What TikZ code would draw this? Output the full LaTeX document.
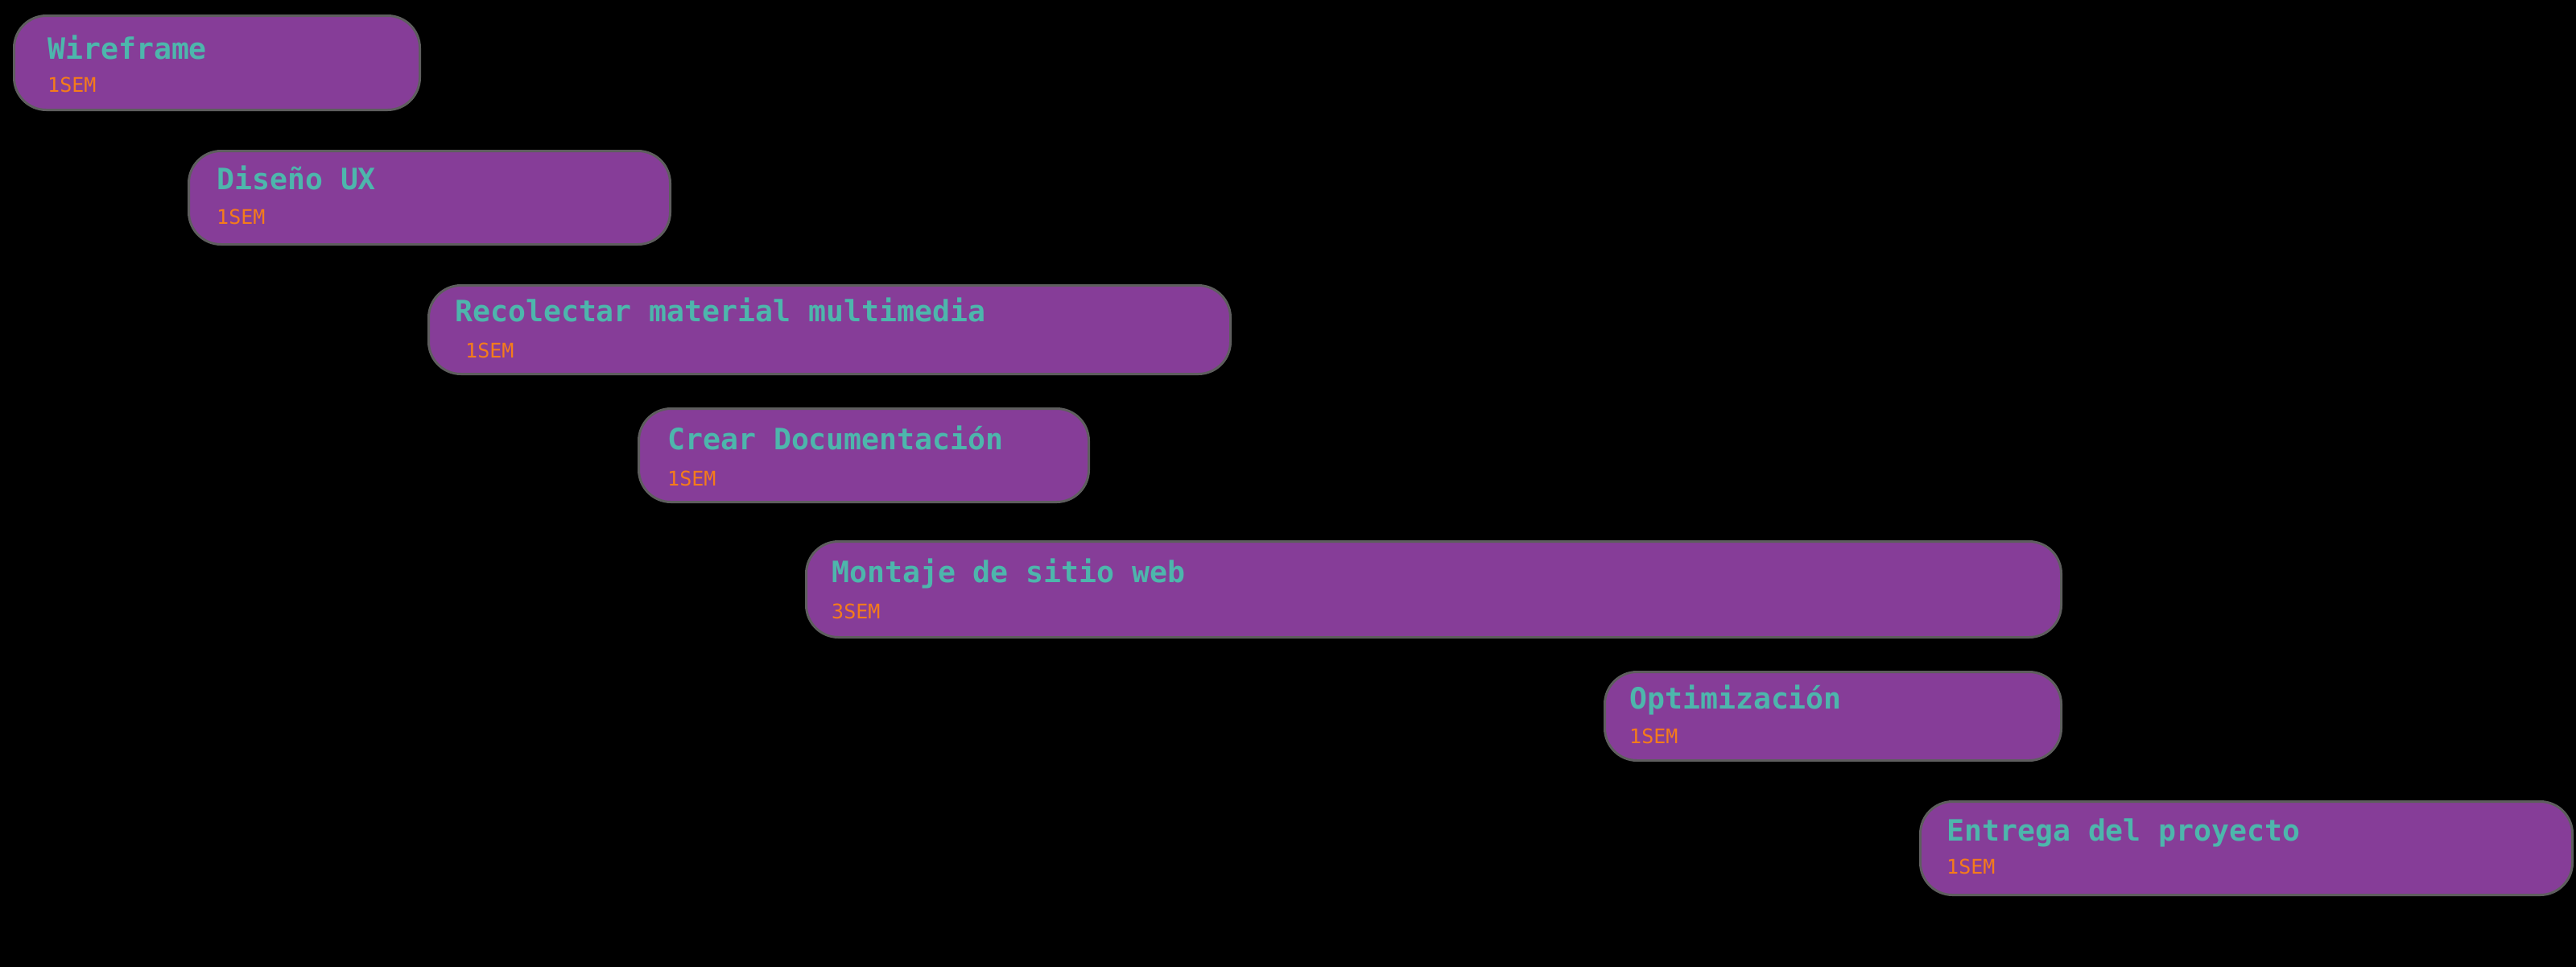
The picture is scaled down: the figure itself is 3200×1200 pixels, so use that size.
\documentclass[tikz,border=0pt]{standalone}
\usepackage{fontspec}
\setmonofont{DejaVu Sans Mono}
\definecolor{barpurple}{HTML}{863D98}
\definecolor{baredge}{HTML}{5E5E5E}
\definecolor{titleteal}{HTML}{4DB6AC}
\definecolor{suborange}{HTML}{F57C1A}
\tikzset{
  bar/.style={draw=baredge, line width=3pt, fill=barpurple, rounded corners=40pt, inner sep=0pt, anchor=north west},
  tasktitle/.style={text=titleteal, font=\ttfamily\bfseries\fontsize{36.5}{40}\selectfont, inner sep=0pt, anchor=base west},
  tasksub/.style={text=suborange, font=\ttfamily\fontsize{25}{28}\selectfont, inner sep=0pt, anchor=base west}
}
\begin{document}
\begin{tikzpicture}[x=1pt,y=-1pt]
\useasboundingbox (0,0) rectangle (3200,1200);
\fill[black] (-10,-10) rectangle (3210,1210);
% bars
\node[bar, minimum width=504pt, minimum height=117pt] (b1) at (16,18) {};
\node[bar, minimum width=598pt, minimum height=116pt] (b2) at (233,186) {};
\node[bar, minimum width=996pt, minimum height=110pt] (b3) at (531,353) {};
\node[bar, minimum width=559pt, minimum height=116pt] (b4) at (792,506) {};
\node[bar, minimum width=1559pt, minimum height=119pt] (b5) at (1000,671) {};
\node[bar, minimum width=567pt, minimum height=110pt] (b6) at (1992,833) {};
\node[bar, minimum width=810pt, minimum height=116pt] (b7) at (2384,994) {};
% titles
\node[tasktitle] (t1) at (59,73) {Wireframe};
\node[tasksub] (s1) at (59,114) {1SEM};
\node[tasktitle] (t2) at (269,235) {Diseño UX};
\node[tasksub] (s2) at (269,278) {1SEM};
\node[tasktitle] (t3) at (565,399) {Recolectar material multimedia};
\node[tasksub] (s3) at (578,444) {1SEM};
\node[tasktitle] (t4) at (829,558) {Crear Documentación};
\node[tasksub] (s4) at (829,603) {1SEM};
\node[tasktitle] (t5) at (1033,723) {Montaje de sitio web};
\node[tasksub] (s5) at (1033,768) {3SEM};
\node[tasktitle] (t6) at (2024,880) {Optimización};
\node[tasksub] (s6) at (2024,923) {1SEM};
\node[tasktitle] (t7) at (2418,1044) {Entrega del proyecto};
\node[tasksub] (s7) at (2418,1085) {1SEM};
\end{tikzpicture}
\end{document}
